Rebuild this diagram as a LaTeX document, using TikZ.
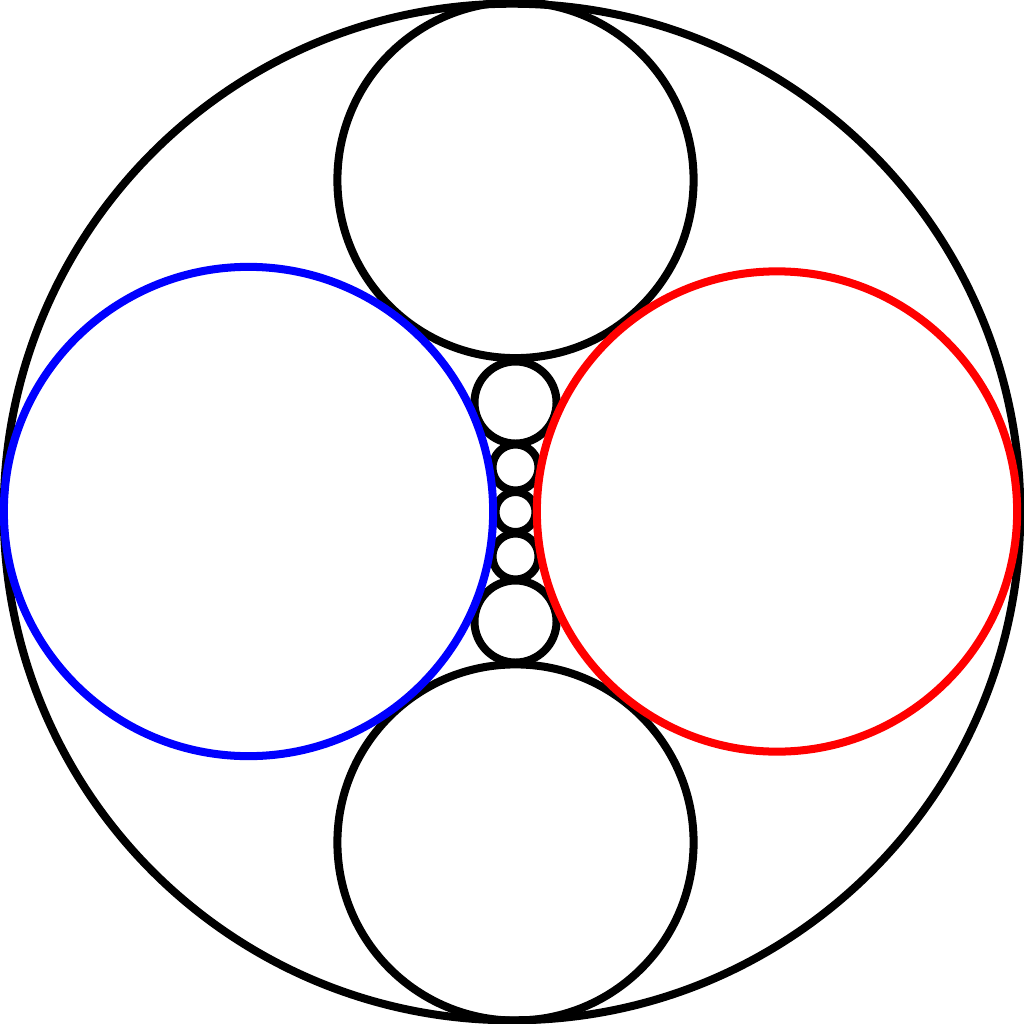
\documentclass[tikz,border=0pt]{standalone}
\usepackage{tikz}

\begin{document}
\begin{tikzpicture}[x=0.01cm, y=-0.01cm,
    every node/.style={circle, draw, line width=2.28pt, inner sep=0pt}]

  \useasboundingbox (0,0) rectangle (1024,1024);

  % Enclosing circle
  \node[minimum size=10.16cm] (outer) at (512,512) {};

  % Top and bottom circles
  \node[minimum size=3.56cm] (top) at (515.5,180) {};
  \node[minimum size=3.56cm] (bottom) at (515.5,842.5) {};

  % Chain of small circles in the gap
  \foreach \y/\d [count=\i] in {402.5/0.82, 467.5/0.46, 512/0.40, 556.5/0.46, 621.5/0.82} {
    \node[minimum size=\d cm] (c\i) at (515.5,\y) {};
  }

  % Left and right circles
  \node[draw=blue, minimum size=4.89cm] (left) at (248.5,511.5) {};
  \node[draw=red, minimum size=4.80cm] (right) at (777,511.5) {};

\end{tikzpicture}
\end{document}
